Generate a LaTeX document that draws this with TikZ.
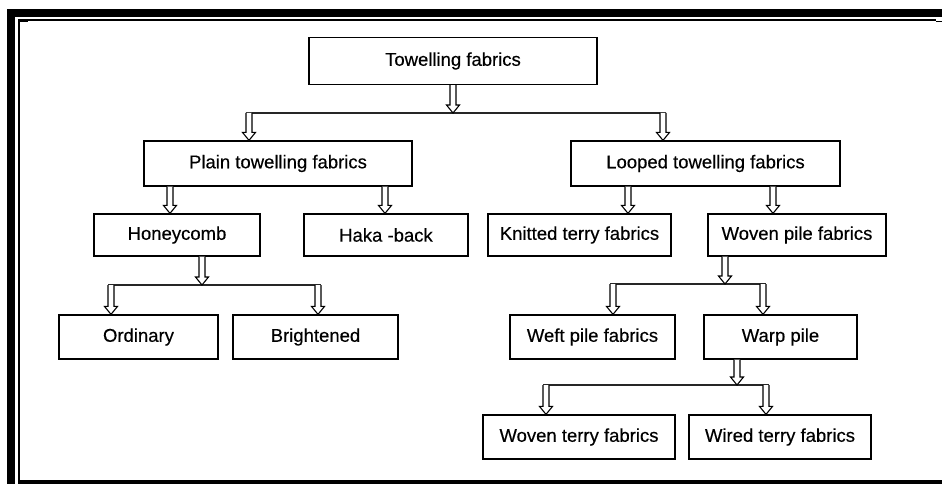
\documentclass[tikz,border=0pt]{standalone}
\usepackage{fontspec}
\setmainfont{Liberation Sans}
\newfontfamily\boxfont[UprightFeatures={FakeBold=0.4}]{Liberation Sans}
\usetikzlibrary{calc}
\newcommand\hollowarrow[2]{%
  \draw[arrowline] let \p1=#1, \p2=#2 in
    (\x1-3pt,\y1) -- (\x1-3pt,\y2+8pt) -- (\x1-6.5pt,\y2+8pt) -- (\x1,\y2)
    -- (\x1+6.5pt,\y2+8pt) -- (\x1+3pt,\y2+8pt) -- (\x1+3pt,\y1);}
\begin{document}
\begin{tikzpicture}[x=1pt,y=-1pt,
  box/.style={draw=black, line width=1.2pt, inner sep=0pt,
    font=\boxfont\fontsize{18.5}{20}\selectfont, text=black},
  arrowline/.style={draw=black, line width=1.1pt, line join=miter, fill=white},
  busline/.style={draw=black!85, line width=1.3pt},
  frameband/.style={fill=black}]
\useasboundingbox (0,0) rectangle (942,484);
% frame
\fill[frameband] (7,9) rectangle (942,17);
\fill[frameband] (7,9) rectangle (15,484);
\fill[frameband] (18,480) rectangle (942,484);
\draw[line width=1.5pt] (19,20) -- (936,20);
\draw[line width=1.5pt] (19,19) -- (19,480);
\draw[line width=1.5pt] (936,21.5) -- (942,21.5);
\draw[line width=1.2pt] (19,21) -- (28,21);
% nodes
\node[box, minimum width=288pt, minimum height=47pt] (top) at (453,61) {Towelling fabrics};
\node[box, minimum width=268pt, minimum height=45pt] (plain) at (278,163.5) {Plain towelling fabrics};
\node[box, minimum width=269pt, minimum height=45pt] (looped) at (705.5,163.5) {Looped towelling fabrics};
\node[box, minimum width=166pt, minimum height=42pt] (honey) at (177,235) {Honeycomb};
\node[box, minimum width=164pt, minimum height=42pt] (haka) at (386,235) {Haka -back};
\node[box, minimum width=183pt, minimum height=42pt] (knit) at (579.5,235) {Knitted terry fabrics};
\node[box, minimum width=178pt, minimum height=42pt] (wovenpile) at (797,235) {Woven pile fabrics};
\node[box, minimum width=159pt, minimum height=44pt] (ordinary) at (138.5,337) {Ordinary};
\node[box, minimum width=165pt, minimum height=44pt] (bright) at (315.5,337) {Brightened};
\node[box, minimum width=165pt, minimum height=44pt] (weft) at (592.5,337) {Weft pile fabrics};
\node[box, minimum width=153pt, minimum height=44pt] (warp) at (780.5,337) {Warp pile};
\node[box, minimum width=192pt, minimum height=44pt] (woventerry) at (579,437) {Woven terry fabrics};
\node[box, minimum width=182pt, minimum height=44pt] (wired) at (780,437) {Wired terry fabrics};
% arrow columns
\coordinate (xtop) at (453,0);
\coordinate (xplain) at (249,0);
\coordinate (xlooped) at (663,0);
\coordinate (xhoney) at (170,0);
\coordinate (xhaka) at (385,0);
\coordinate (xknit) at (628,0);
\coordinate (xwovenpile) at (773,0);
\coordinate (xhoneyout) at (202,0);
\coordinate (xordinary) at (111,0);
\coordinate (xbright) at (318,0);
\coordinate (xwpout) at (725,0);
\coordinate (xweft) at (613,0);
\coordinate (xwarp) at (763,0);
\coordinate (xwarpout) at (737,0);
\coordinate (xwoventerry) at (546,0);
\coordinate (xwired) at (766,0);
% bus lines
\coordinate (bus1) at (0,113);
\coordinate (bus2) at (0,285);
\coordinate (bus3) at (0,284);
\coordinate (bus4) at (0,385);
\draw[busline] ($(bus1 -| xplain)+(-3,0)$) -- ($(bus1 -| xlooped)+(3,0)$);
\draw[busline] ($(bus2 -| xordinary)+(-3,0)$) -- ($(bus2 -| xbright)+(3,0)$);
\draw[busline] ($(bus3 -| xweft)+(-3,0)$) -- ($(bus3 -| xwarp)+(3,0)$);
\draw[busline] ($(bus4 -| xwoventerry)+(-3,0)$) -- ($(bus4 -| xwired)+(3,0)$);
% arrows
\hollowarrow{(top.south -| xtop)}{(bus1 -| xtop)}
\hollowarrow{(bus1 -| xplain)}{(plain.north -| xplain)}
\hollowarrow{(bus1 -| xlooped)}{(looped.north -| xlooped)}
\hollowarrow{(plain.south -| xhoney)}{(honey.north -| xhoney)}
\hollowarrow{(plain.south -| xhaka)}{(haka.north -| xhaka)}
\hollowarrow{(looped.south -| xknit)}{(knit.north -| xknit)}
\hollowarrow{(looped.south -| xwovenpile)}{(wovenpile.north -| xwovenpile)}
\hollowarrow{(honey.south -| xhoneyout)}{(bus2 -| xhoneyout)}
\hollowarrow{(bus2 -| xordinary)}{(ordinary.north -| xordinary)}
\hollowarrow{(bus2 -| xbright)}{(bright.north -| xbright)}
\hollowarrow{(wovenpile.south -| xwpout)}{(bus3 -| xwpout)}
\hollowarrow{(bus3 -| xweft)}{(weft.north -| xweft)}
\hollowarrow{(bus3 -| xwarp)}{(warp.north -| xwarp)}
\hollowarrow{(warp.south -| xwarpout)}{(bus4 -| xwarpout)}
\hollowarrow{(bus4 -| xwoventerry)}{(woventerry.north -| xwoventerry)}
\hollowarrow{(bus4 -| xwired)}{(wired.north -| xwired)}
\end{tikzpicture}
\end{document}
